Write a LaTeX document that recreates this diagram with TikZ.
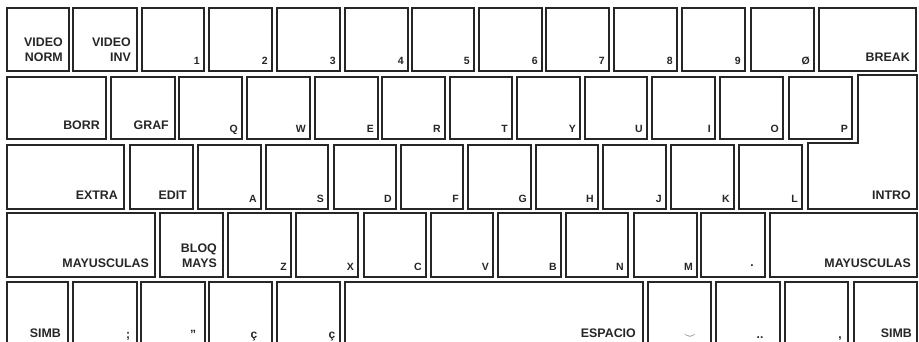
\documentclass[tikz,border=0pt]{standalone}
\usepackage{fontspec}
\setmainfont{Liberation Sans}
\tikzset{
  keybox/.style={draw=black!85, line width=1.4pt, rectangle, inner sep=0pt, outer sep=0pt},
  biglbl/.style={font=\fontsize{12.4}{15}\selectfont\bfseries, inner sep=0pt, anchor=south east, text depth=0pt, align=right, text=black!85},
  smlbl/.style={font=\fontsize{10.5}{12}\selectfont\bfseries, inner sep=0pt, anchor=south east, text depth=0pt, text=black!85},
  symlbl/.style={font=\fontsize{12}{12}\selectfont\bfseries, inner sep=0pt, anchor=base, text=black!85},
}
\newcommand\kb[5]{\node[keybox, minimum width={(#4-#2)*1pt}, minimum height={(#5-#3)*1pt}] (#1) at ({(#2+#4)/2},{(#3+#5)/2}) {};}
\newcommand\lbig[2]{\node[biglbl] (t#1) at ([xshift=-6pt,yshift=9pt]#1.south east) {#2};}
\newcommand\lsml[2]{\node[smlbl] (t#1) at ([xshift=-4pt,yshift=6pt]#1.south east) {#2};}
\begin{document}
\begin{tikzpicture}[x=1pt,y=-1pt]
\useasboundingbox[fill=white] (0,0) rectangle (919,341);
\clip (0,0) rectangle (919,341);
% Row 1
\kb{kvn}{7}{8}{69}{71}\lbig{kvn}{VIDEO\\NORM}
\kb{kvi}{73}{8}{137}{71}\lbig{kvi}{VIDEO\\INV}
\kb{k1}{142}{8}{204}{71}\lsml{k1}{1}
\kb{k2}{209}{8}{272}{71}\lsml{k2}{2}
\kb{k3}{277}{8}{340}{71}\lsml{k3}{3}
\kb{k4}{345}{8}{408}{71}\lsml{k4}{4}
\kb{k5}{412}{8}{474}{71}\lsml{k5}{5}
\kb{k6}{479}{8}{542}{71}\lsml{k6}{6}
\kb{k7}{546}{8}{609}{71}\lsml{k7}{7}
\kb{k8}{614}{8}{677}{71}\lsml{k8}{8}
\kb{k9}{682}{8}{745}{71}\lsml{k9}{9}
\kb{k0}{751}{8}{814}{71}\lsml{k0}{Ø}
\kb{kbrk}{819}{8}{916}{71}\lbig{kbrk}{BREAK}
% Row 2
\kb{kborr}{7}{77}{106}{139}\lbig{kborr}{BORR}
\kb{kgraf}{111}{77}{175}{139}\lbig{kgraf}{GRAF}
\kb{kQ}{179}{77}{242}{139}\lsml{kQ}{Q}
\kb{kW}{247}{77}{310}{139}\lsml{kW}{W}
\kb{kE}{315}{77}{378}{139}\lsml{kE}{E}
\kb{kR}{382}{77}{445}{139}\lsml{kR}{R}
\kb{kT}{450}{77}{512}{139}\lsml{kT}{T}
\kb{kY}{517}{77}{580}{139}\lsml{kY}{Y}
\kb{kU}{585}{77}{647}{139}\lsml{kU}{U}
\kb{kI}{652}{77}{715}{139}\lsml{kI}{I}
\kb{kO}{720}{77}{783}{139}\lsml{kO}{O}
\kb{kP}{789}{77}{852}{139}\lsml{kP}{P}
% INTRO (L-shaped)
\draw[draw=black!85, line width=1.4pt, line join=miter]
  (858,75) -- (917,75) -- (917,209) -- (808,209) -- (808,143) -- (858,143) -- cycle;
\coordinate (kintro) at (917,209);
\node[biglbl] (tkintro) at ([xshift=-6pt,yshift=9pt]kintro) {INTRO};
% Row 3
\kb{kextra}{7}{145}{124}{209}\lbig{kextra}{EXTRA}
\kb{kedit}{130}{145}{193}{209}\lbig{kedit}{EDIT}
\kb{kA}{198}{145}{261}{209}\lsml{kA}{A}
\kb{kS}{266}{145}{328}{209}\lsml{kS}{S}
\kb{kD}{334}{145}{396}{209}\lsml{kD}{D}
\kb{kF}{401}{145}{463}{209}\lsml{kF}{F}
\kb{kG}{468}{145}{531}{209}\lsml{kG}{G}
\kb{kH}{536}{145}{598}{209}\lsml{kH}{H}
\kb{kJ}{603}{145}{666}{209}\lsml{kJ}{J}
\kb{kK}{671}{145}{734}{209}\lsml{kK}{K}
\kb{kL}{739}{145}{802}{209}\lsml{kL}{L}
% Row 4
\kb{kmayl}{7}{213}{155}{277}\lbig{kmayl}{MAYUSCULAS}
\kb{kbloq}{160}{213}{223}{277}\lbig{kbloq}{BLOQ\\MAYS}
\kb{kZ}{228}{213}{291}{277}\lsml{kZ}{Z}
\kb{kX}{296}{213}{358}{277}\lsml{kX}{X}
\kb{kC}{364}{213}{426}{277}\lsml{kC}{C}
\kb{kV}{431}{213}{493}{277}\lsml{kV}{V}
\kb{kB}{498}{213}{561}{277}\lsml{kB}{B}
\kb{kN}{566}{213}{628}{277}\lsml{kN}{N}
\kb{kM}{634}{213}{697}{277}\lsml{kM}{M}
\kb{kdot}{701}{213}{765}{277}
\node[symlbl] (tkdot) at (752,266) {.};
\kb{kmayr}{770}{213}{917}{277}\lbig{kmayr}{MAYUSCULAS}
% Row 5 (cut off at the bottom)
\kb{ksiml}{7}{282}{68}{352}
\node[biglbl] (tksiml) at (61,338) {SIMB};
\kb{ksemi}{73}{282}{137}{352}
\node[symlbl] (tksemi) at (128,338) {;};
\kb{kquot}{141}{282}{205}{352}
\node[symlbl] (tkquot) at (193,338) {"};
\kb{kc1}{209}{282}{272}{352}
\node[symlbl] (tkc1) at (254,338) {ç};
\kb{kc2}{277}{282}{340}{352}
\node[symlbl] (tkc2) at (332,338) {ç};
\kb{kesp}{345}{282}{643}{352}
\node[biglbl] (tkesp) at (636,338) {ESPACIO};
\kb{ku1}{648}{282}{711}{352}
\node[symlbl] (tku1) at (690,338) {$\smile$};
\kb{ku2}{716}{282}{780}{352}
\node[symlbl] (tku2) at (760,338) {..};
\kb{kcomma}{785}{282}{848}{352}
\node[symlbl] (tkcomma) at (840,338) {,};
\kb{ksimr}{854}{282}{917}{352}
\node[biglbl] (tksimr) at (912,338) {SIMB};
\end{tikzpicture}
\end{document}
